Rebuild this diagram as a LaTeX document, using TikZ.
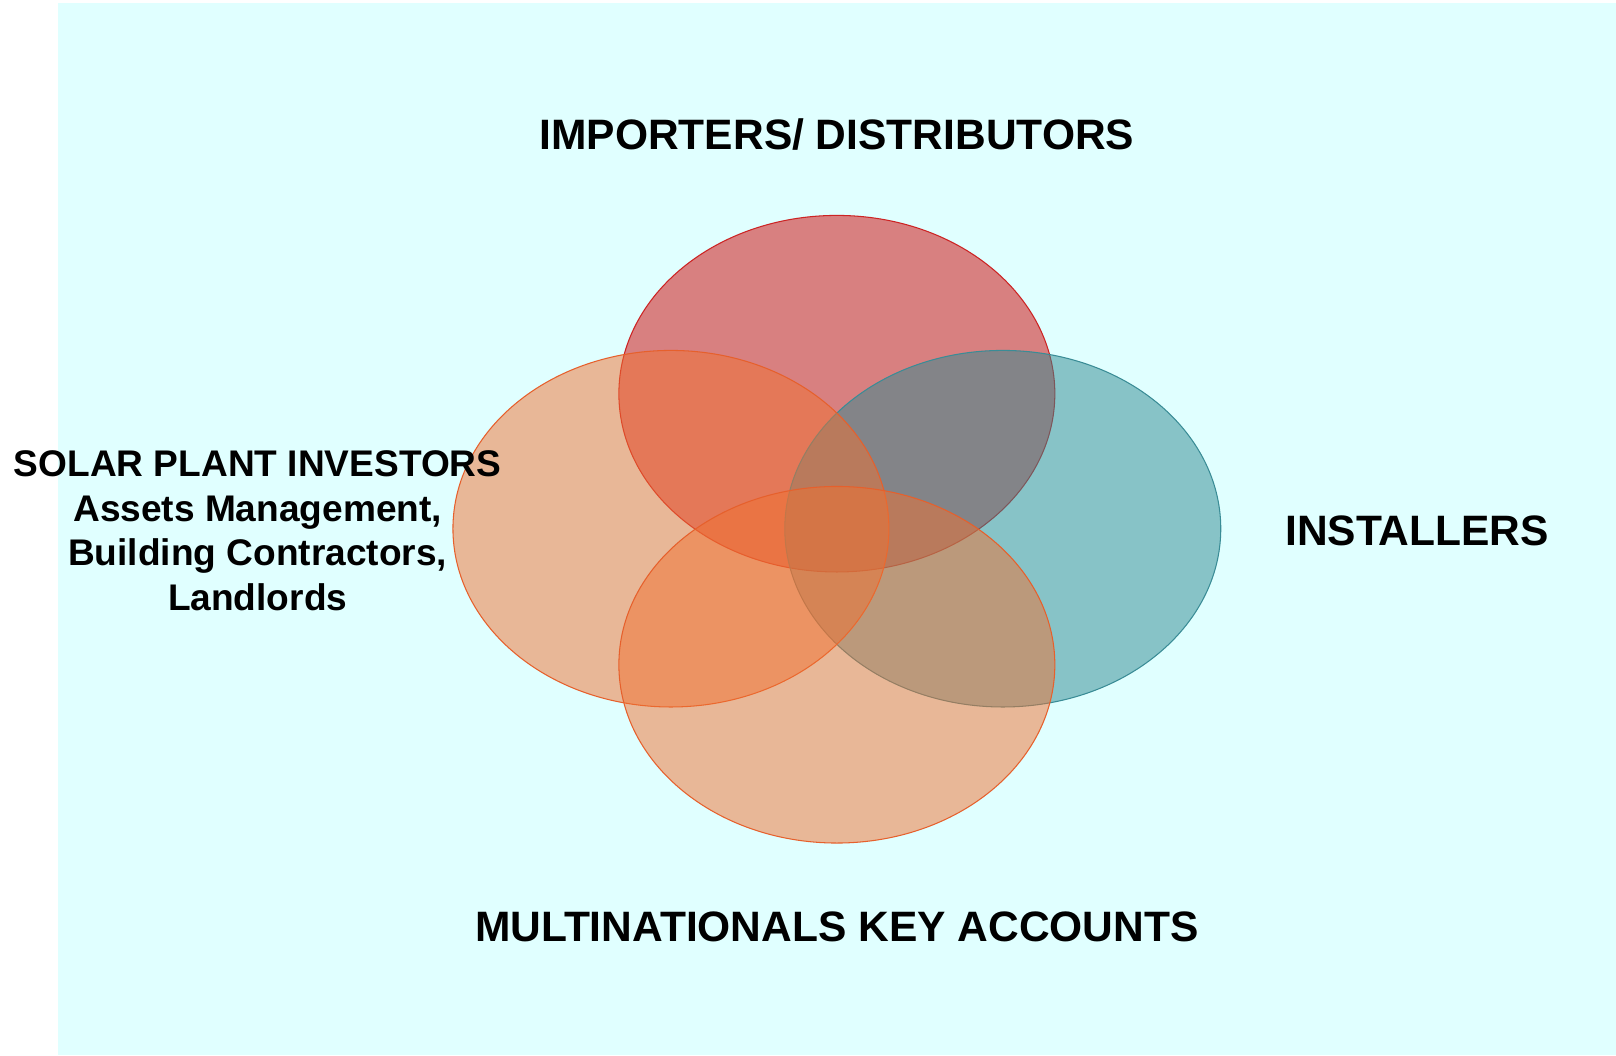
\documentclass[tikz,border=0pt]{standalone}
\usepackage{fontspec}
\setmainfont{Liberation Sans}
\definecolor{bgcyan}{RGB}{224,255,255}
\definecolor{redfill}{RGB}{210,2,2}
\definecolor{redline}{RGB}{204,36,36}
\definecolor{tealfill}{RGB}{48,137,145}
\definecolor{tealline}{RGB}{58,140,150}
\definecolor{orangefill}{RGB}{240,113,49}
\definecolor{orangeline}{RGB}{230,96,44}
\tikzset{
  blob/.style={line width=0.6pt, fill opacity=0.5, x radius=4.36cm, y radius=3.566cm},
  bigtitle/.style={font=\bfseries\fontsize{24.2}{29}\selectfont, text=black},
  sidetitle/.style={font=\bfseries\fontsize{21.1}{25.4}\selectfont, text=black, align=center}
}
\begin{document}
\begin{tikzpicture}[x=0.02061cm, y=-0.02061cm]
      \useasboundingbox (0,0) rectangle (1568,1023.7);
      \fill[bgcyan] (56.3,2.9) rectangle (1568,1023.7);
      % the four circles of the diagram
      \draw[blob, draw=redline, fill=redfill] (812,382) ellipse [];
      \draw[blob, draw=tealline, fill=tealfill] (973,513) ellipse [];
      \draw[blob, draw=orangeline, fill=orangefill] (651,513) ellipse [];
      \draw[blob, draw=orangeline, fill=orangefill] (812,645) ellipse [];
      % labels
      \draw
        (812,131) node[bigtitle] (importers) {IMPORTERS/ DISTRIBUTORS}
        (1375,515) node[bigtitle] (installers) {INSTALLERS}
        (812,899) node[bigtitle] (multinationals) {MULTINATIONALS KEY ACCOUNTS}
        (250,515) node[sidetitle] (investors) {SOLAR PLANT INVESTORS\\Assets Management,\\Building Contractors,\\Landlords};
    \end{tikzpicture}
\end{document}
